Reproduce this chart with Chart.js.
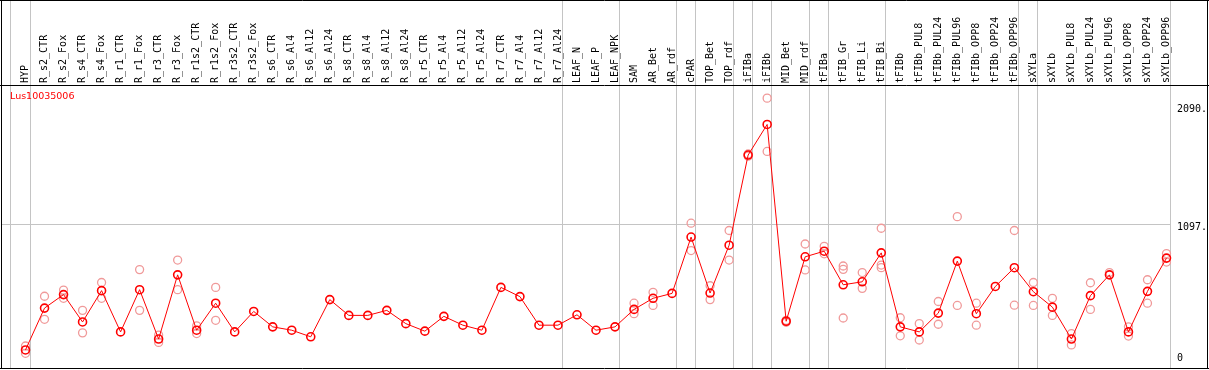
<!DOCTYPE html>
<html>
<head>
<meta charset="utf-8">
<script src="https://cdn.jsdelivr.net/npm/chart.js@4.4.0/dist/chart.umd.min.js"></script>
<style>
  body { margin: 0; background: #fff; }
  canvas { display: block; }
</style>
</head>
<body>
<canvas id="exprChart" width="1209" height="370"></canvas>
<script>
// samples (x axis)
const categories = ['HYP', 'R_s2_CTR', 'R_s2_Fox', 'R_s4_CTR', 'R_s4_Fox', 'R_r1_CTR', 'R_r1_Fox',
    'R_r3_CTR', 'R_r3_Fox', 'R_r1s2_CTR', 'R_r1s2_Fox', 'R_r3s2_CTR', 'R_r3s2_Fox',
    'R_s6_CTR', 'R_s6_Al4', 'R_s6_Al12', 'R_s6_Al24', 'R_s8_CTR', 'R_s8_Al4', 'R_s8_Al12', 'R_s8_Al24',
    'R_r5_CTR', 'R_r5_Al4', 'R_r5_Al12', 'R_r5_Al24', 'R_r7_CTR', 'R_r7_Al4', 'R_r7_Al12', 'R_r7_Al24',
    'LEAF_N', 'LEAF_P', 'LEAF_NPK', 'SAM', 'AR_Bet', 'AR_rdf', 'cPAR', 'TOP_Bet', 'TOP_rdf',
    'iFIBa', 'iFIBb', 'MID_Bet', 'MID_rdf', 'tFIBa', 'tFIB_Gr', 'tFIB_Li', 'tFIB_Bi',
    'tFIBb', 'tFIBb_PUL8', 'tFIBb_PUL24', 'tFIBb_PUL96', 'tFIBb_OPP8', 'tFIBb_OPP24', 'tFIBb_OPP96',
    'sXYLa', 'sXYLb', 'sXYLb_PUL8', 'sXYLb_PUL24', 'sXYLb_PUL96', 'sXYLb_OPP8', 'sXYLb_OPP24', 'sXYLb_OPP96'];

// mean expression
const meanValues = [41, 391, 504, 275, 537, 192, 545, 132, 669, 206, 432, 192, 363,
    234, 206, 151, 462, 330, 330, 372, 261, 198, 322, 248, 206, 564, 487, 248, 248,
    335, 206, 234, 380, 473, 514, 985, 517, 917, 1671, 1927, 281, 820, 867, 586, 611, 853,
    234, 192, 349, 784, 344, 572, 729, 528, 399, 132, 495, 669, 192, 531, 809];

// replicates
const rep1 = [74, 490, 542, 372, 605, null, 713, 165, 793, 242, 564, null, null,
    null, null, null, null, null, null, null, null, null, null, null, null, null, null, null, null,
    null, null, null, 432, 523, null, 1101, 578, 1040, 1680, 2147, 289, 927, 908, 743, 688, 1059,
    310, 261, 446, 1156, 432, null, 1040, 605, 473, 178, 603, 688, 234, 628, 847];
const rep2 = [13, 297, 473, 184, 473, null, 372, 104, 545, 178, 289, null, null,
    null, null, null, null, null, null, null, null, null, null, null, null, null, null, null, null,
    null, null, null, 344, 413, null, 872, 462, 793, 1662, 1701, 272, 710, 845, 715, 556, 751,
    159, 124, 256, 413, 248, null, 415, 413, 330, 83, 380, null, 157, 432, 776];
const rep3 = [null, null, null, null, null, null, null, null, null, null, null, null, null,
    null, null, null, null, null, null, null, null, null, null, null, null, null, null, null, null,
    null, null, null, null, null, null, null, null, null, null, null, null, null, null, 308, null, 729,
    null, null, null, null, null, null, null, null, null, null, null, null, null, null, null];

// y axis
const yTicks = [0, 1097, 2090];
const yTickLabels = ['0', '1097.', '2090.'];

// last sample of each group (gray separators)
const groupEnds = [-1, 0, 28, 31, 34, 35, 37, 38, 39, 41, 42, 45, 52, 53, 60];

const geneName = 'Lus10035006';

// frame, separators and mid grid line
const framePlugin = {
    id: 'frame',
    beforeDatasetsDraw(chart) {
        const c = chart.ctx;
        const x = chart.scales.x;
        const y = chart.scales.y;
        const step = x.getPixelForValue(1) - x.getPixelForValue(0);
        c.save();
        c.strokeStyle = '#c4c4c4';
        c.lineWidth = 1;
        c.beginPath();
        groupEnds.forEach(i => {
            const px = Math.round(x.getPixelForValue(0) + i * step + 4) + 0.5;
            c.moveTo(px, 0);
            c.lineTo(px, 368);
        });
        const gy = Math.round(y.getPixelForValue(1097)) + 0.5;
        c.moveTo(2, gy);
        c.lineTo(Math.round(x.getPixelForValue(0) + 60 * step + 4), gy);
        c.stroke();
        c.restore();
    },
    afterDraw(chart) {
        const c = chart.ctx;
        c.save();
        c.strokeStyle = '#000';
        c.lineWidth = 1;
        c.beginPath();
        c.moveTo(0, 0.5); c.lineTo(1209, 0.5);
        c.moveTo(1.5, 0); c.lineTo(1.5, 369);
        c.moveTo(0, 368.5); c.lineTo(1209, 368.5);
        c.moveTo(1207.5, 0); c.lineTo(1207.5, 369);
        c.moveTo(0, 85.5); c.lineTo(1209, 85.5);
        c.stroke();
        c.fillStyle = '#ff0000';
        c.font = '9.5px "DejaVu Sans"';
        c.textBaseline = 'middle';
        c.fillText(geneName, 10, 97);
        c.restore();
    }
};

const ctx = document.getElementById('exprChart').getContext('2d');

const repStyle = {
    type: 'line',
    showLine: false,
    pointRadius: 4,
    pointBorderWidth: 1.3,
    pointBorderColor: '#f09a9a',
    pointBackgroundColor: 'rgba(0,0,0,0)'
};

const myChart = new Chart(ctx, {
    type: 'line',
    data: {
        labels: categories,
        datasets: [
            {
                label: 'mean',
                data: meanValues,
                borderColor: '#ff0000',
                borderWidth: 1,
                pointRadius: 4,
                pointBorderWidth: 1.6,
                pointBorderColor: '#ff0000',
                pointBackgroundColor: 'rgba(0,0,0,0)',
                tension: 0
            },
            Object.assign({ label: 'rep1', data: rep1 }, repStyle),
            Object.assign({ label: 'rep2', data: rep2 }, repStyle),
            Object.assign({ label: 'rep3', data: rep3 }, repStyle)
        ]
    },
    options: {
        responsive: false,
        animation: false,
        layout: { padding: { left: 16, right: 0, top: 0, bottom: 2 } },
        plugins: {
            legend: { display: false },
            tooltip: { enabled: false }
        },
        scales: {
            x: {
                position: 'top',
                offset: true,
                grid: { display: false, drawTicks: false },
                border: { display: false },
                ticks: {
                    autoSkip: false,
                    minRotation: 90,
                    maxRotation: 90,
                    padding: 2,
                    labelOffset: 12,
                    color: '#000',
                    font: { family: 'DejaVu Sans Mono', size: 10 }
                },
                afterFit: (scale) => {
                    scale.height = 85;
                    scale.paddingLeft = 0;
                    scale.paddingRight = 0;
                }
            },
            y: {
                position: 'right',
                min: -80,
                max: 2257,
                grid: { display: false, drawTicks: false },
                border: { display: false },
                afterBuildTicks: (scale) => {
                    scale.ticks = yTicks.map(v => ({ value: v }));
                },
                ticks: {
                    padding: 1,
                    labelOffset: 4,
                    color: '#000',
                    font: { family: 'DejaVu Sans Mono', size: 10 },
                    callback: (value, index) => yTickLabels[index]
                },
                afterFit: (scale) => {
                    scale.width = 33;
                    scale.paddingTop = 0;
                    scale.paddingBottom = 0;
                }
            }
        }
    },
    plugins: [framePlugin]
});
</script>
</body>
</html>
